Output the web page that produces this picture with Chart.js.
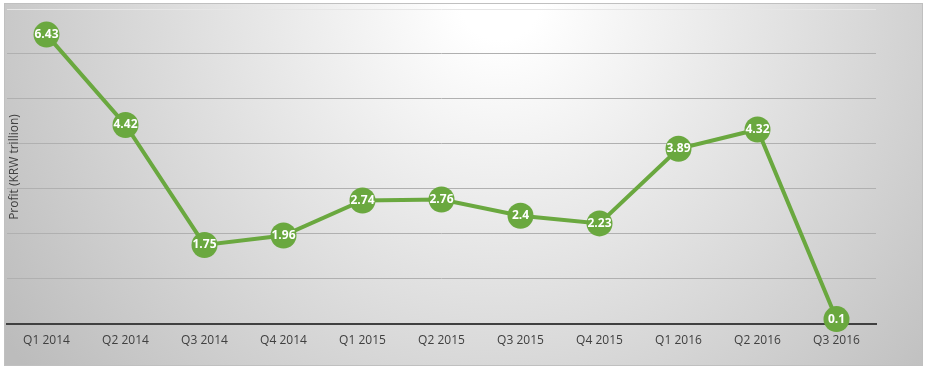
<!DOCTYPE html>
<html>
<head>
<meta charset="utf-8">
<script src="https://cdn.jsdelivr.net/npm/chart.js@4/dist/chart.umd.min.js"></script>
<style>
  html, body { margin: 0; padding: 0; background: #fff; }
  canvas { display: block; }
</style>
</head>
<body>
<canvas id="chart" width="930" height="371"></canvas>
<script>
// Данные
const quarters = ['Q1 2014', 'Q2 2014', 'Q3 2014', 'Q4 2014', 'Q1 2015', 'Q2 2015',
                  'Q3 2015', 'Q4 2015', 'Q1 2016', 'Q2 2016', 'Q3 2016'];
const profit = [6.43, 4.42, 1.75, 1.96, 2.74, 2.76, 2.4, 2.23, 3.89, 4.32, 0.1];
const yTitle = 'Profit (KRW trillion)';

const green = '#6aa83f';

// Фон с радиальным градиентом
const backgroundPlugin = {
    id: 'bg',
    beforeDraw(chart) {
        const ctx = chart.ctx;
        ctx.save();
        const g = ctx.createRadialGradient(500, 0, 40, 500, 0, 600);
        g.addColorStop(0, '#ffffff');
        g.addColorStop(1, '#bcbcbc');
        ctx.fillStyle = g;
        ctx.fillRect(4, 3, 919, 363);
        ctx.strokeStyle = '#c0c0c0';
        ctx.lineWidth = 1;
        ctx.strokeRect(4.5, 3.5, 918, 362);
        ctx.restore();
    }
};

// Подписи значений и заголовок оси
const labelsPlugin = {
    id: 'labels',
    afterDatasetsDraw(chart) {
        const ctx = chart.ctx;
        const meta = chart.getDatasetMeta(0);
        ctx.save();
        ctx.font = 'bold 12px "Open Sans", sans-serif';
        ctx.fillStyle = '#ffffff';
        ctx.textAlign = 'center';
        ctx.textBaseline = 'middle';
        meta.data.forEach((pt, i) => {
            ctx.fillText(String(profit[i]), pt.x, pt.y);
        });
        ctx.translate(15, 167);
        ctx.rotate(-Math.PI / 2);
        ctx.font = '12px "Open Sans", sans-serif';
        ctx.fillStyle = '#404040';
        ctx.fillText(yTitle, 0, 0);
        ctx.restore();
    }
};

new Chart(document.getElementById('chart').getContext('2d'), {
    type: 'line',
    data: {
        labels: quarters,
        datasets: [{
            data: profit,
            borderColor: green,
            borderWidth: 4,
            pointRadius: 13,
            pointBackgroundColor: green,
            pointBorderColor: green,
            pointBorderWidth: 0,
            tension: 0,
            clip: false
        }]
    },
    options: {
        responsive: false,
        animation: false,
        layout: { autoPadding: false, padding: { left: 7, right: 54, top: 9, bottom: 13 } },
        plugins: { legend: { display: false }, tooltip: { enabled: false } },
        scales: {
            x: {
                offset: true,
                afterFit(scale) {
                    scale.paddingLeft = 0;
                    scale.paddingRight = 0;
                },
                grid: { display: false, drawTicks: false },
                border: { color: '#404040', width: 2 },
                ticks: {
                    color: '#404040',
                    padding: 10,
                    font: { family: '"Open Sans", sans-serif', size: 12 }
                }
            },
            y: {
                min: 0,
                max: 7,
                display: true,
                afterFit(scale) {
                    scale.width = 0;
                },
                ticks: { display: false, stepSize: 1 },
                border: { display: false },
                grid: {
                    drawTicks: false,
                    color: (c) => c.tick.value === 7 ? '#e6e6e6' : '#b0b0b0'
                }
            }
        }
    },
    plugins: [backgroundPlugin, labelsPlugin]
});
</script>
</body>
</html>
